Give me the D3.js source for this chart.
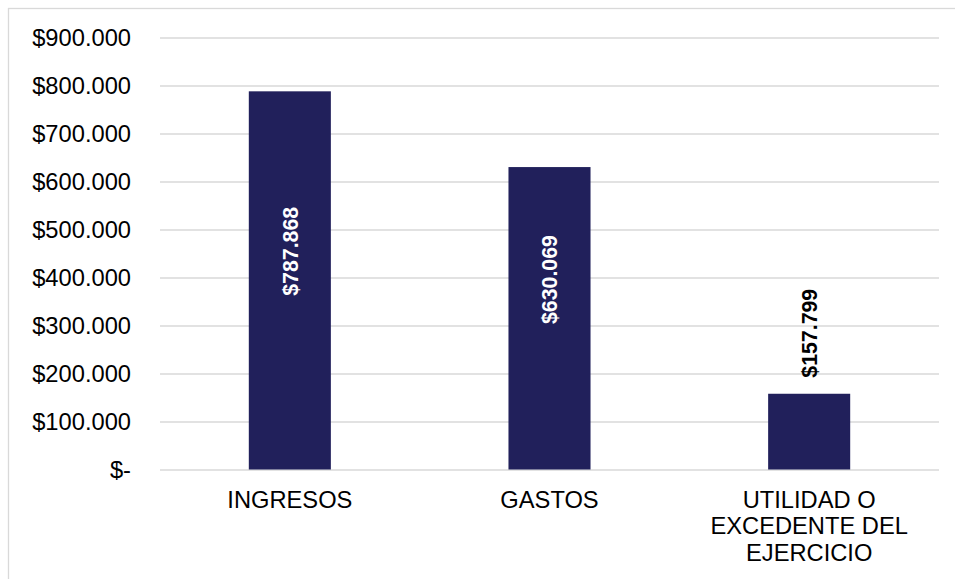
<!DOCTYPE html>
<html>
<head>
<meta charset="utf-8">
<script src="https://cdn.jsdelivr.net/npm/d3@7"></script>
<style>
  html, body { margin: 0; padding: 0; background: #fff; }
  svg { display: block; }
  text { font-family: "Liberation Sans", Arial, sans-serif; }
</style>
</head>
<body>
<svg id="chart" width="955" height="579"></svg>
<script>
// ---- data ----
const categories = ["INGRESOS", "GASTOS", "UTILIDAD O EXCEDENTE DEL EJERCICIO"];
const values = [787868, 630069, 157799];
const tickValues = [0, 100000, 200000, 300000, 400000, 500000, 600000, 700000, 800000, 900000];

// ---- layout / style ----
const W = 955, H = 579;
const plot = { left: 160, right: 939, top: 37.5, bottom: 469.5 };
const barColor = "#21205B";
const gridColor = "#d9d9d9";
// label placement: inside bars (white) for first two, above bar for last
const labelInside = [true, true, false];
const labelCenterDy = [160, 112.5, -60.5]; // offset of label centre from bar top

const locale = d3.formatLocale({ decimal: ",", thousands: ".", grouping: [3], currency: ["$", ""] });
const fmt = locale.format("$,.0f");
const money = v => v === 0 ? "$-" : fmt(v);

const svg = d3.select("#chart");

// outer border (chart area frame)
svg.append("rect")
  .attr("x", 8.5).attr("y", 8.5)
  .attr("width", W + 20).attr("height", H + 20)
  .attr("fill", "none").attr("stroke", gridColor).attr("stroke-width", 1.3);

const x = d3.scaleBand().domain(categories).range([plot.left, plot.right])
  .paddingInner(0.684).paddingOuter(0.342);
const y = d3.scaleLinear().domain([0, 900000]).range([plot.bottom, plot.top]);

// gridlines
const grid = svg.append("g").attr("transform", `translate(${plot.left},0)`)
  .call(d3.axisLeft(y).tickValues(tickValues).tickSize(-(plot.right - plot.left)).tickFormat(""));
grid.select(".domain").remove();
grid.selectAll("line").attr("stroke", gridColor).attr("stroke-width", 1.3);

// y axis labels
const yAxis = svg.append("g").attr("transform", `translate(${plot.left},0)`)
  .call(d3.axisLeft(y).tickValues(tickValues).tickSize(0).tickPadding(29).tickFormat(money));
yAxis.select(".domain").remove();
yAxis.selectAll("text")
  .attr("font-family", "'Liberation Sans', Arial, sans-serif")
  .attr("font-size", "23.7px").attr("fill", "#000");

// bars
svg.append("g").selectAll("rect").data(values).join("rect")
  .attr("x", (d, i) => x(categories[i]))
  .attr("y", d => y(d))
  .attr("width", x.bandwidth())
  .attr("height", d => y(0) - y(d))
  .attr("fill", barColor);

// value labels
svg.append("g").selectAll("text").data(values).join("text")
  .attr("transform", (d, i) => `translate(${x(categories[i]) + x.bandwidth() / 2},${y(d) + labelCenterDy[i]}) rotate(-90)`)
  .attr("text-anchor", "middle")
  .attr("dy", "0.36em")
  .attr("font-size", "21.3px")
  .attr("font-weight", "bold")
  .attr("fill", (d, i) => labelInside[i] ? "#fff" : "#000")
  .text(d => money(d));

// x axis category labels (wrapped)
const xAxis = svg.append("g").attr("transform", `translate(0,${plot.bottom})`)
  .call(d3.axisBottom(x).tickSize(0).tickPadding(0));
xAxis.select(".domain").remove();
xAxis.selectAll("text").remove();
const maxW = x.step() * 0.82;
xAxis.selectAll(".tick").each(function(cat) {
  const g = d3.select(this);
  const t = g.append("text")
    .attr("text-anchor", "middle")
    .attr("font-size", "23.7px")
    .attr("fill", "#000");
  const words = cat.split(" ");
  let lines = [], line = [];
  const probe = t.append("tspan");
  words.forEach(w => {
    const trial = line.concat(w).join(" ");
    probe.text(trial);
    if (probe.node().getComputedTextLength() > maxW && line.length) {
      lines.push(line.join(" "));
      line = [w];
    } else {
      line.push(w);
    }
  });
  lines.push(line.join(" "));
  probe.remove();
  lines.forEach((l, k) => {
    t.append("tspan").attr("x", 0).attr("y", 38 + k * 26.5).text(l);
  });
});
</script>
</body>
</html>
